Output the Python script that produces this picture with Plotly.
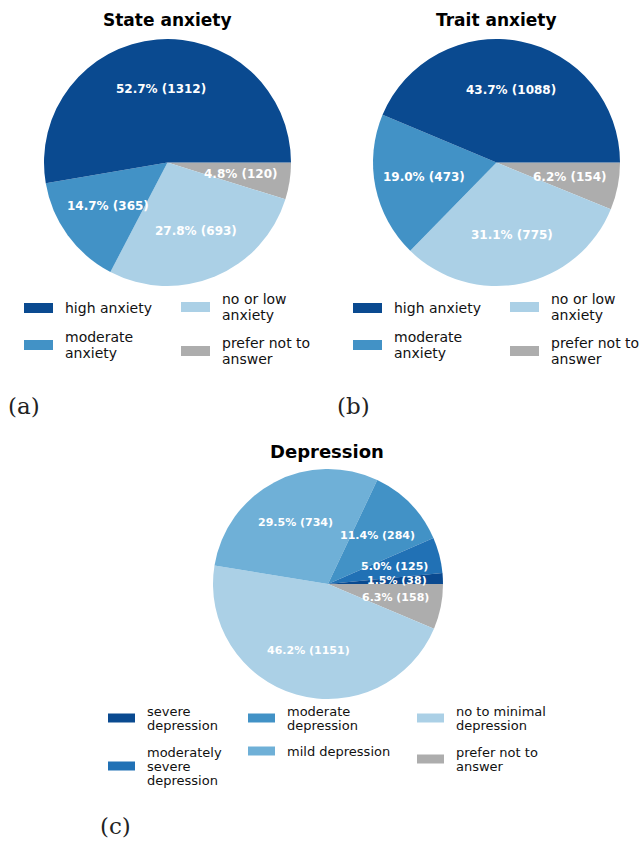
import math
import plotly.graph_objects as go

W, H = 640, 843

# ---------------- data ----------------
anx_labels = ["high anxiety", "moderate anxiety", "no or low anxiety", "prefer not to answer"]
state_values = [1312, 365, 693, 120]
trait_values = [1088, 473, 775, 154]
anx_colors = ["#0a4a90", "#4292c6", "#abd0e6", "#adadad"]

dep_labels = ["severe depression", "moderately severe depression", "moderate depression",
              "mild depression", "no to minimal depression", "prefer not to answer"]
dep_values = [38, 125, 284, 734, 1151, 158]
dep_colors = ["#0a4a90", "#2171b5", "#4292c6", "#6fb0d7", "#abd0e6", "#adadad"]

titles = ["State anxiety", "Trait anxiety", "Depression"]
panel_tags = ["(a)", "(b)", "(c)"]

# legend text as wrapped lines (same order as labels)
anx_legend_lines = [["high anxiety"], ["moderate", "anxiety"], ["no or low", "anxiety"], ["prefer not to", "answer"]]
dep_legend_lines = [["severe", "depression"], ["moderately", "severe", "depression"],
                    ["moderate", "depression"], ["mild depression"],
                    ["no to minimal", "depression"], ["prefer not to", "answer"]]

FONT = "DejaVu Sans"


def px(x):
    return x / W


def py(y):
    return 1 - y / H


fig = go.Figure()
annotations = []
shapes = []


def add_pie(labels, values, colors, cx, cy, r, label_size):
    # slices run counter-clockwise from 3 o'clock: draw reversed order clockwise from 3 o'clock
    fig.add_trace(go.Pie(
        labels=labels[::-1],
        values=values[::-1],
        marker=dict(colors=colors[::-1], line=dict(width=0)),
        sort=False, direction="clockwise", rotation=90,
        textinfo="none", hoverinfo="skip", showlegend=False,
        domain=dict(x=[px(cx - r), px(cx + r)], y=[py(cy + r), py(cy - r)]),
    ))
    total = sum(values)
    cum = 0
    for v in values:
        mid = (cum + v / 2) / total
        cum += v
        th = 2 * math.pi * mid
        lx = cx + 0.6 * r * math.cos(th)
        ly = cy - 0.6 * r * math.sin(th)
        annotations.append(dict(
            x=px(lx), y=py(ly), xref="paper", yref="paper", showarrow=False,
            xanchor="center", yanchor="middle",
            text=f"{100 * v / total:.1f}% ({v})",
            font=dict(family=FONT, size=label_size, color="white", weight="bold"),
        ))


def add_title(text, cx, cy, size):
    annotations.append(dict(
        x=px(cx), y=py(cy), xref="paper", yref="paper", showarrow=False,
        xanchor="center", yanchor="middle", text=text,
        font=dict(family=FONT, size=size, color="black", weight="bold"),
    ))


def add_legend(items, colors, positions, size, lh, sq_w=29, sq_h=10, gap=10):
    for lines, col, (sx, cy) in zip(items, colors, positions):
        shapes.append(dict(
            type="rect", xref="paper", yref="paper", line=dict(width=0), fillcolor=col,
            x0=px(sx), x1=px(sx + sq_w), y0=py(cy + sq_h / 2), y1=py(cy - sq_h / 2),
        ))
        n = len(lines)
        for i, t in enumerate(lines):
            ly = cy + (i - (n - 1) / 2) * lh
            annotations.append(dict(
                x=px(sx + sq_w + gap), y=py(ly), xref="paper", yref="paper", showarrow=False,
                xanchor="left", yanchor="middle", text=t,
                font=dict(family=FONT, size=size, color="#111111"),
            ))


# State anxiety
add_pie(anx_labels, state_values, anx_colors, 167.5, 162.5, 123.5, 12)
add_title(titles[0], 167, 20, 17)
anx_pos_left = [(24, 308), (24, 345), (181, 307), (181, 351)]
add_legend(anx_legend_lines, anx_colors, anx_pos_left, 14, 15.5)

# Trait anxiety
off = 329
add_pie(anx_labels, trait_values, anx_colors, 167.5 + off, 162.5, 123.5, 12)
add_title(titles[1], 167 + off, 20, 17)
add_legend(anx_legend_lines, anx_colors, [(x + off, y) for x, y in anx_pos_left], 14, 15.5)

# Depression
add_pie(dep_labels, dep_values, dep_colors, 328, 584, 115, 11)
add_title(titles[2], 327, 451, 18)
dep_pos = [(108, 718), (108, 766), (248, 718), (248, 751), (417, 718), (417, 759)]
add_legend(dep_legend_lines, dep_colors, dep_pos, 13, 14, sq_w=27, sq_h=9, gap=10)

# panel tags
for tag, (tx, ty) in zip(panel_tags, [(24, 406), (353, 406), (115, 826)]):
    annotations.append(dict(
        x=px(tx), y=py(ty), xref="paper", yref="paper", showarrow=False,
        xanchor="center", yanchor="middle", text=tag,
        font=dict(family="DejaVu Serif", size=23, color="#222222"),
    ))

fig.update_layout(
    width=W, height=H,
    margin=dict(l=0, r=0, t=0, b=0),
    paper_bgcolor="white", plot_bgcolor="white",
    annotations=annotations, shapes=shapes,
)

fig.write_html("out.html", config={"displayModeBar": False},
               post_script="document.body.style.margin='0px';")
